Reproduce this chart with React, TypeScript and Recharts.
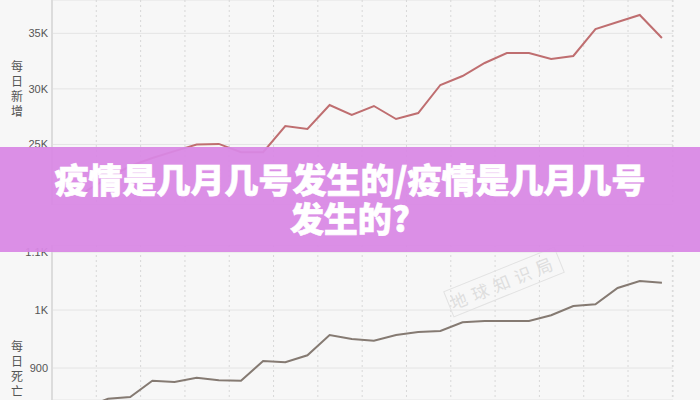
import React from 'react';
import { LineChart, Line, XAxis, YAxis, CartesianGrid } from 'recharts';

// daily new cases (top panel)
const dailyNew = [
  20800, 21980, 23060, 23780, 24400, 25000, 25050, 24300, 24300, 26660,
  26390, 28550, 27650, 28460, 27290, 27830, 30350, 31160, 32330, 33230,
  33230, 32690, 32960, 35390, 36020, 36650, 34580,
];
// daily deaths (bottom panel)
const dailyDeaths = [
  832, 847, 850, 878, 876, 883, 879, 878, 912, 910,
  922, 957, 950, 947, 957, 962, 964, 979, 981, 981,
  981, 991, 1007, 1010, 1038, 1050, 1047,
];
const newTicks = [20000, 25000, 30000, 35000];
const deathTicks = [900, 1000, 1100];
const gridTicks = [-1.53, 0.47, 2.47, 4.47, 6.47, 8.47, 10.47, 12.47, 14.47, 16.47, 18.47, 20.47, 22.47, 24.47, 26.47];

const topData = dailyNew.map((v, i) => ({ i, v }));
const bottomData = dailyDeaths.map((v, i) => ({ i, v }));

const fmtK = (v: number) => (v >= 1000 ? `${v / 1000}K` : `${v}`);

const tickStyle = { fill: '#555', fontSize: 11, fontFamily: 'Liberation Sans, Arial, sans-serif' };

function Panel({ data, domain, ticks, color, height }: any) {
  return (
    <LineChart width={700} height={height} data={data} margin={{ top: 0, right: 27, left: 0, bottom: 0 }}>
      <CartesianGrid vertical={false} stroke="#e4e4e4" strokeWidth={1} />
      <CartesianGrid horizontal={false} stroke="#d8d8d8" strokeDasharray="2 3" />
      <XAxis type="number" dataKey="i" domain={[-1.53, 26.5]} ticks={gridTicks} hide allowDataOverflow />
      <YAxis
        domain={domain}
        ticks={ticks}
        allowDataOverflow
        width={52}
        tickFormatter={fmtK}
        tickLine={false}
        tickSize={0}
        tickMargin={4}
        axisLine={{ stroke: '#dcdcdc', strokeWidth: 2 }}
        tick={tickStyle}
      />
      <Line type="linear" dataKey="v" stroke={color} strokeWidth={2} dot={false} isAnimationActive={false} />
    </LineChart>
  );
}

const vTitle = (chars: string, top: number) => (
  <div
    style={{
      position: 'absolute',
      left: 9,
      top,
      width: 16,
      fontFamily: '"Noto Sans CJK SC", sans-serif',
      fontSize: 12,
      lineHeight: '15px',
      color: '#555',
      textAlign: 'center',
    }}
  >
    {chars.split('').map((c, k) => (
      <div key={k}>{c}</div>
    ))}
  </div>
);

export default function App() {
  return (
    <div style={{ position: 'absolute', left: 0, top: 0, width: 700, height: 400, background: '#f7f7f7', overflow: 'hidden' }}>
      <div style={{ position: 'absolute', left: 0, top: 0 }}>
        <Panel data={topData} domain={[19550, 38000]} ticks={newTicks} color="#bf6e70" height={205} />
      </div>
      <div style={{ position: 'absolute', left: 0, top: 245 }}>
        <Panel data={bottomData} domain={[844.8, 1112.2]} ticks={deathTicks} color="#857a72" height={155} />
      </div>
      {vTitle('每日新增', 58)}
      {vTitle('每日死亡', 338)}
      <div
        style={{
          position: 'absolute',
          left: 444,
          top: 268,
          width: 118,
          height: 26,
          border: '1.5px solid #e2e2e2',
          transform: 'rotate(-22deg)',
          color: '#dedede',
          fontFamily: '"Noto Sans CJK SC", sans-serif',
          fontSize: 17,
          letterSpacing: 6,
          textAlign: 'center',
          lineHeight: '26px',
        }}
      >
        地球知识局
      </div>
      <div
        style={{
          position: 'absolute',
          left: 0,
          top: 147,
          width: 700,
          height: 105,
          background: 'rgba(217,136,228,0.94)',
          color: '#fff',
          fontFamily: '"Noto Sans CJK SC", sans-serif',
          fontWeight: 900,
          fontSize: 34,
          lineHeight: '39px',
          textAlign: 'center',
          WebkitTextStroke: '0.6px #fff',
          paddingTop: 12,
          boxSizing: 'border-box',
        }}
      >
        <div>疫情是几月几号发生的/疫情是几月几号</div>
        <div>发生的?</div>
      </div>
    </div>
  );
}
